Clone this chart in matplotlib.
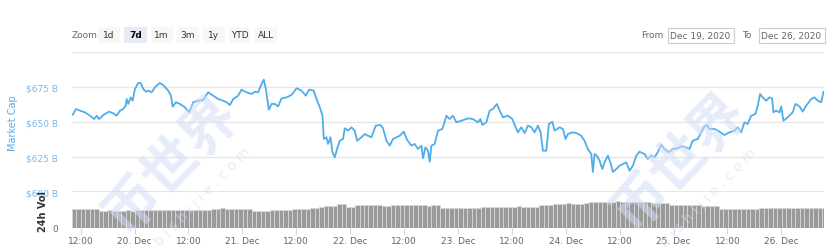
import matplotlib
matplotlib.use("Agg")
import matplotlib.pyplot as plt
from matplotlib.patches import Rectangle
import numpy as np
import pandas as pd

# market cap, hours after the first sample, value in $ billions
cap_hours = [
    0.16, 0.89, 1.78, 2.89, 4.00, 4.96, 5.49, 6.00, 6.96, 8.23, 9.19, 9.94, 10.68, 11.41,
    11.94, 12.17, 12.52, 13.05, 13.50, 14.01, 14.75, 15.28, 15.86, 16.46, 16.97, 17.73,
    18.46, 19.57, 20.46, 21.42, 22.02, 22.40, 23.13, 24.02, 25.13, 26.09, 26.98, 28.09,
    29.20, 30.31, 31.43, 32.54, 33.65, 34.41, 35.14, 35.88, 36.99, 37.74, 38.86, 39.97,
    40.70, 41.44, 42.19, 42.70, 43.15, 43.82, 44.42, 45.15, 45.88, 46.64, 47.75, 48.86,
    49.98, 51.09, 52.04, 52.78, 53.82, 54.42, 55.16, 55.76, 56.05, 56.65, 57.00, 57.54,
    57.98, 58.49, 59.00, 59.60, 60.34, 60.72, 61.45, 62.21, 62.94, 63.46, 64.43, 65.17,
    65.90, 66.66, 67.62, 68.66, 69.24, 70.00, 70.73, 71.46, 72.22, 72.95, 73.84, 74.57,
    75.55, 76.29, 77.02, 77.78, 78.14, 78.67, 79.25, 79.63, 80.00, 80.74, 81.47, 82.45,
    83.34, 84.07, 84.81, 85.56, 86.67, 88.14, 89.26, 90.37, 90.90, 91.35, 92.24, 92.97,
    93.71, 94.60, 95.20, 95.93, 97.05, 98.02, 98.76, 99.27, 100.03, 100.76, 101.49, 102.25,
    102.98, 103.72, 104.32, 104.83, 105.58, 106.16, 106.92, 107.43, 108.54, 109.27, 109.87,
    110.39, 111.37, 112.26, 113.36, 114.10, 114.84, 115.59, 115.95, 116.33, 116.84, 117.44,
    118.04, 118.55, 119.29, 119.83, 120.41, 121.16, 121.89, 122.63, 123.38, 124.11, 124.85,
    125.60, 126.33, 127.45, 128.18, 128.94, 129.67, 130.40, 131.16, 131.89, 132.85, 133.74,
    134.85, 135.61, 136.72, 137.45, 138.19, 139.30, 140.06, 140.79, 141.31, 141.90, 143.01,
    144.13, 145.24, 146.35, 147.46, 148.20, 148.96, 149.69, 150.42, 151.18, 152.13, 152.65,
    153.18, 153.76, 154.52, 155.25, 155.85, 156.14, 156.74, 157.48, 157.86, 158.37, 159.33,
    160.44, 161.04, 161.94, 162.67, 163.43, 164.54, 165.25, 166.02, 166.78, 167.29,
]
cap_values = [
    655.2, 659.3, 658.1, 656.9, 654.5, 652.1, 654.5, 652.1, 655.0, 657.4, 656.2, 654.5, 658.1, 659.3,
    661.6, 666.4, 662.9, 667.6, 665.2, 673.6, 677.9, 677.9, 673.6, 671.6, 672.4, 671.2,
    674.8, 677.9, 675.9, 672.4, 668.8, 660.9, 664.1, 662.9, 660.5, 656.9, 664.1, 665.2,
    665.7, 671.2, 668.8, 666.4, 665.2, 664.1, 662.1, 666.4, 668.8, 673.1, 671.2, 670.0,
    671.6, 671.2, 677.1, 680.2, 673.6, 658.8, 662.9, 662.9, 661.2, 666.9, 667.6, 669.3,
    674.1, 672.4, 668.8, 673.1, 672.4, 666.4, 660.5, 654.5, 637.9, 639.1, 634.3, 639.1,
    628.4, 624.8, 630.7, 636.6, 637.9, 645.5, 643.8, 646.2, 643.8, 636.6, 639.1, 641.4,
    640.2, 639.1, 647.4, 647.9, 645.5, 636.6, 633.1, 637.9, 639.1, 640.2, 643.1, 637.4,
    633.1, 634.3, 630.7, 633.1, 624.1, 631.9, 629.5, 621.6, 633.1, 634.3, 643.8, 645.0,
    654.5, 652.1, 654.5, 649.8, 650.9, 652.6, 652.1, 649.8, 652.1, 647.9, 649.8, 658.1,
    659.3, 662.9, 658.1, 653.4, 654.5, 652.1, 646.2, 642.6, 646.2, 642.1, 647.4, 646.2,
    642.6, 647.4, 642.6, 629.5, 629.5, 648.6, 650.2, 643.8, 646.2, 645.0, 637.9,
    641.4, 642.6, 642.1, 640.2, 636.6, 630.7, 627.1, 614.3, 627.1, 625.9, 622.4,
    616.4, 621.2, 625.9, 621.2, 614.3, 616.4, 618.8, 620.0, 621.2, 615.2, 618.8,
    625.9, 628.8, 627.1, 623.6, 625.9, 624.8, 628.4, 633.6, 630.7, 628.4, 630.7,
    631.2, 632.6, 631.9, 630.7, 636.6, 637.9, 642.6, 646.9, 647.9, 645.0, 645.0,
    643.1, 640.7, 642.6, 643.8, 646.2, 642.6, 649.8, 648.6, 654.5, 655.7, 661.6,
    670.0, 667.6, 665.2, 667.6, 666.9, 656.9, 658.1, 656.9, 661.2, 650.9, 653.4,
    656.9, 662.9, 661.2, 657.4, 661.6, 666.4, 667.6, 665.2, 664.1, 671.6,
]

# 24h volume, one value per hour ($ billions)
vol_values = [
    38, 38, 39, 38, 38, 38, 35, 35, 36, 35, 35, 35, 36, 35, 36, 36, 36, 36, 37, 36, 36, 36, 36, 37,
    37, 37, 37, 37, 37, 37, 37, 39, 39, 40, 39, 39, 39, 38, 38, 38, 35, 35, 35, 35, 36, 36, 36, 36,
    36, 38, 38, 38, 38, 40, 40, 43, 44, 44, 45, 48, 48, 42, 42, 46, 46, 46, 46, 46, 46, 44, 44, 46,
    46, 46, 47, 46, 46, 46, 46, 45, 46, 46, 40, 40, 40, 40, 40, 40, 41, 40, 40, 43, 43, 43, 43, 43,
    43, 43, 43, 44, 43, 43, 43, 43, 46, 46, 46, 49, 49, 49, 50, 49, 49, 49, 50, 53, 53, 53, 53, 53,
    53, 54, 53, 53, 53, 53, 53, 53, 52, 50, 50, 50, 50, 46, 46, 46, 46, 46, 46, 46, 44, 44, 44, 44,
    38, 38, 38, 38, 38, 38, 38, 38, 38, 40, 40, 40, 40, 41, 41, 41, 41, 41, 41, 41, 41, 41, 41, 41,
]

start = pd.Timestamp("2020-12-19 10:05")
tick_times = pd.date_range("2020-12-19 12:00", "2020-12-26 00:00", freq="12h")
tick_labels = ["12:00", "20. Dec", "12:00", "21. Dec", "12:00", "22. Dec", "12:00",
               "23. Dec", "12:00", "24. Dec", "12:00", "25. Dec", "12:00", "26. Dec"]
cap_ticks = [600, 625, 650, 675, 700]
cap_tick_labels = ["$600 B", "$625 B", "$650 B", "$675 B", ""]
zoom_buttons = ["1d", "7d", "1m", "3m", "1y", "YTD", "ALL"]
date_from = "Dec 19, 2020"
date_to = "Dec 26, 2020"

W, H = 839, 253
fig = plt.figure(figsize=(W / 100, H / 100), dpi=100)


def fx(px):
    return px / W


def fy(py):
    return 1 - py / H


cap_t = start + pd.to_timedelta(cap_hours, unit="h")
vol_t = start + pd.to_timedelta(np.arange(len(vol_values)) + 0.5, unit="h")
x_end = start + pd.Timedelta(hours=167.4)

# main pane
ax = fig.add_axes([fx(72), fy(193), fx(824) - fx(72), fy(53) - fy(193)])
ax.plot(cap_t, cap_values, color="#4eaeea", lw=1.3, zorder=3)
ax.set_xlim(start, x_end)
ax.set_ylim(600, 700)
ax.set_yticks(cap_ticks)
ax.set_yticklabels(cap_tick_labels)
ax.grid(axis="y", color="#e6e6e6", lw=1)
ax.tick_params(axis="y", length=0, pad=10, labelsize=6.5, labelcolor="#7cb8ea")
ax.tick_params(axis="x", bottom=False, labelbottom=False)
for s in ax.spines.values():
    s.set_visible(False)
ax.axhline(600, color="#dcdcdc", lw=1.8, zorder=1)
ax.set_ylabel("Market Cap", color="#5aaae4", fontsize=7, labelpad=6)

# volume pane
axv = fig.add_axes([fx(72), fy(229), fx(824) - fx(72), fy(194) - fy(229)], sharex=ax)
axv.bar(vol_t, vol_values, width=1 / 24, color="#9a9a9a", edgecolor="#d9d9d9",
        linewidth=0.6, zorder=2)
axv.set_ylim(0, 70)
axv.set_yticks([0])
axv.set_yticklabels(["0"])
axv.tick_params(axis="y", length=0, pad=10, labelsize=6.5, labelcolor="#666666")
for s in axv.spines.values():
    s.set_visible(False)
axv.set_xticks(tick_times)
axv.set_xticklabels(tick_labels)
axv.tick_params(axis="x", length=4, color="#ccd6eb", labelsize=6.5,
                labelcolor="#666666", pad=1.5)
axv.set_xlim(start, x_end)
fig.text(fx(43), fy(212), "24h Vol", rotation=90, ha="center", va="center",
         fontsize=7, color="#333333", fontweight="bold")

# range selector
fig.text(fx(72), fy(36), "Zoom", ha="left", va="center", fontsize=6.5, color="#666666")
btn_x = [98, 124, 150.5, 176.5, 202.5, 228.5, 254.5]
btn_w = [22, 22.5, 22, 22.5, 22.5, 22, 22.5]
for i, name in enumerate(zoom_buttons):
    sel = name == "7d"
    fig.add_artist(Rectangle((fx(btn_x[i]), fy(44)), fx(btn_w[i]), fy(28) - fy(44),
                             transform=fig.transFigure,
                             facecolor="#e6ebf5" if sel else "#f7f7f7",
                             edgecolor="none"))
    fig.text(fx(btn_x[i] + btn_w[i] / 2), fy(36), name, ha="center", va="center",
             fontsize=6.5, color="#000000" if sel else "#333333",
             fontweight="bold" if sel else "normal")

fig.text(fx(641), fy(36), "From", ha="left", va="center", fontsize=6.5, color="#666666")
fig.text(fx(742), fy(36), "To", ha="left", va="center", fontsize=6.5, color="#666666")
for x0, label in [(667.5, date_from), (758.5, date_to)]:
    fig.add_artist(Rectangle((fx(x0), fy(43.5)), fx(66), fy(28.5) - fy(43.5),
                             transform=fig.transFigure, facecolor="white",
                             edgecolor="#cccccc", lw=0.8))
    fig.text(fx(x0 + 33), fy(36), label, ha="center", va="center",
             fontsize=6.5, color="#666666")

# watermark
for cx, cy, dx, dy in [(172, 165, 30, 32), (680, 162, 28, 36)]:
    fig.text(fx(cx), fy(cy), "币世界", rotation=46, ha="center", va="center",
             rotation_mode="anchor", fontsize=40, fontweight="bold",
             family=["Noto Sans CJK SC", "DejaVu Sans"], color="#d3ddf8", alpha=0.55)
    fig.text(fx(cx + dx), fy(cy + dy), "b i s h i j i e . c o m", rotation=46,
             ha="center", va="center", rotation_mode="anchor", fontsize=10,
             color="#d3ddf8", alpha=0.55)

fig.savefig("out.png", dpi=100)
